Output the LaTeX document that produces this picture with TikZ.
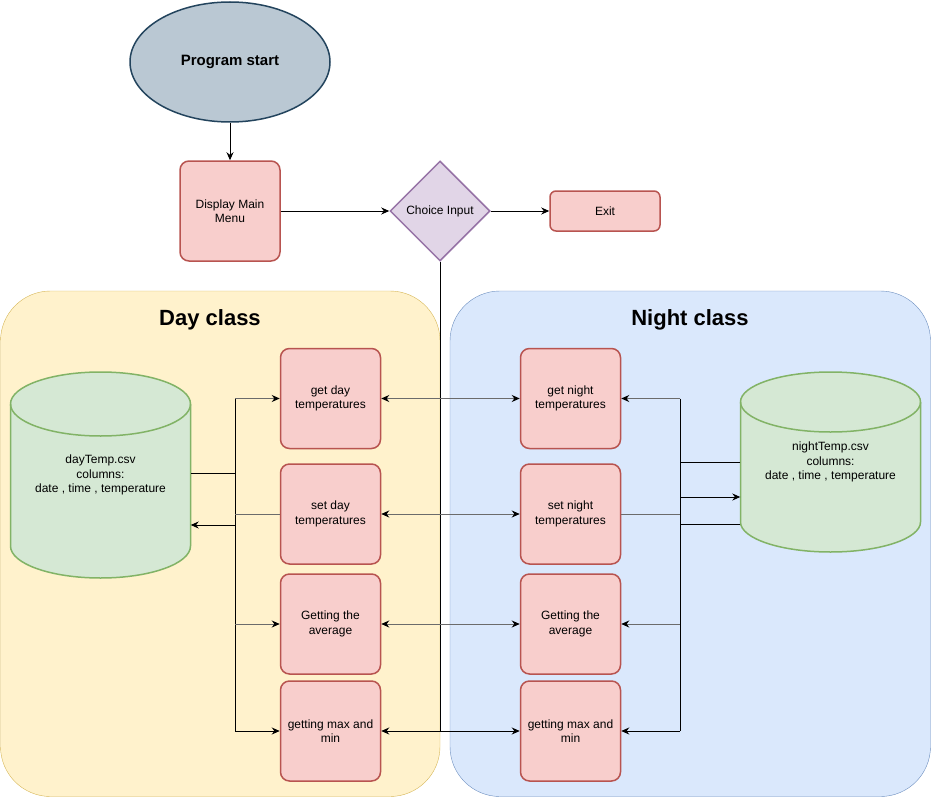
\documentclass[tikz,border=0pt]{standalone}
\usepackage{fontspec}
\setmainfont{Liberation Sans}
\usetikzlibrary{shapes.geometric, arrows.meta}

\definecolor{startFill}{HTML}{BAC8D3}
\definecolor{startLine}{HTML}{23445D}
\definecolor{boxFill}{HTML}{F8CECC}
\definecolor{boxLine}{HTML}{B85450}
\definecolor{choiceFill}{HTML}{E1D5E7}
\definecolor{choiceLine}{HTML}{9673A6}
\definecolor{dayFill}{HTML}{FFF2CC}
\definecolor{dayLine}{HTML}{D6B656}
\definecolor{nightFill}{HTML}{DAE8FC}
\definecolor{nightLine}{HTML}{6C8EBF}
\definecolor{csvFill}{HTML}{D5E8D4}
\definecolor{csvLine}{HTML}{82B366}

% cylinder: centre x, top y, bottom y, end radius
\newcommand{\csvdrum}[4]{%
  \draw[csvdb] (#1-90,#2-#4) -- (#1-90,#3+#4)
    arc[start angle=180, end angle=360, x radius=90, y radius=#4]
    -- (#1+90,#2-#4) arc[start angle=0, end angle=180, x radius=90, y radius=#4] -- cycle;
  \draw[csvdb, fill=none] (#1-90,#2-#4) arc[start angle=180, end angle=360, x radius=90, y radius=#4];
}

\begin{document}
\begin{tikzpicture}[x=1pt, y=1pt,
  >={Stealth[length=8pt, width=7pt, color=black]},
  every node/.style={inner sep=0pt, align=center, font=\fontsize{12}{14.5}\selectfont},
  redbox/.style={draw=boxLine, fill=boxFill, line width=1.5pt, rounded corners=9pt,
    minimum width=100pt, minimum height=100pt},
  startnode/.style={ellipse, draw=startLine, fill=startFill, line width=1.5pt,
    minimum width=200pt, minimum height=120pt, font=\fontsize{15}{17}\selectfont\bfseries},
  choicenode/.style={diamond, draw=choiceLine, fill=choiceFill, line width=1.5pt,
    minimum width=100pt, minimum height=100pt},
  csvdb/.style={draw=csvLine, fill=csvFill, line width=1.5pt},
  title/.style={font=\fontsize{22}{25}\selectfont\bfseries},
  link/.style={draw=black, line width=1pt},
  dimlink/.style={draw=black!58, line width=1pt}]
\useasboundingbox (0,0) rectangle (931,-797);

% class frames
\draw[draw=dayLine, fill=dayFill, rounded corners=50pt] (0.5,-291) rectangle (440,-796.5);
\draw[draw=nightLine, fill=nightFill, rounded corners=50pt] (450,-291) rectangle (930.5,-796.5);
\node[title] (dayTitle) at (210,-320) {Day class};
\node[title] (nightTitle) at (690,-320) {Night class};

% main menu
\node[startnode] (start) at (230,-62) {Program start};
\node[redbox] (menu) at (230,-211) {Display Main\\Menu};
\node[choicenode] (choice) at (440,-211) {Choice Input};
\node[redbox, minimum width=110pt, minimum height=40pt, rounded corners=6pt] (exit) at (605,-211) {Exit};

\draw[link,->] (start) -- (menu);
\draw[link,->] (menu) -- (choice);
\draw[link,->] (choice) -- (exit);

% day class
\node[redbox] (getDay) at (330.5,-398.5) {get day\\temperatures};
\node[redbox] (setDay) at (330.5,-514) {set day\\temperatures};
\node[redbox] (avgDay) at (330.5,-624) {Getting the\\average};
\node[redbox] (maxDay) at (330.5,-731) {getting max and\\min};
\csvdrum{100.5}{-372}{-578}{32}
\node[minimum width=180pt, minimum height=206pt] (dayCsv) at (100.5,-475) {dayTemp.csv\\columns:\\date , time , temperature};

% night class
\node[redbox] (getNight) at (570.5,-398.5) {get night\\temperatures};
\node[redbox] (setNight) at (570.5,-514) {set night\\temperatures};
\node[redbox] (avgNight) at (570.5,-624) {Getting the\\average};
\node[redbox] (maxNight) at (570.5,-731) {getting max and\\min};
\csvdrum{830.5}{-372}{-552}{30}
\node[minimum width=180pt, minimum height=180pt] (nightCsv) at (830.5,-462) {nightTemp.csv\\columns:\\date , time , temperature};

\draw[link] (choice.south) -- (choice.south |- maxDay);

% day wiring
\coordinate (dayBusTop) at (235,-398.5);
\coordinate (dayBusBot) at (235,-731);
\draw[link] (dayBusTop) -- (dayBusBot);
\draw[link] ([yshift=2pt]dayCsv.east) -- ([yshift=2pt]dayCsv.east -| dayBusTop);
\draw[dimlink,->] (dayBusTop) -- (getDay.west);
\draw[dimlink] (setDay.west) -- (setDay.west -| dayBusTop);
\draw[link,->] ([yshift=-11pt]setDay.west -| dayBusTop) -- ([yshift=-11pt]setDay.west -| dayCsv.east);
\draw[dimlink,->] (avgDay.west -| dayBusTop) -- (avgDay.west);
\draw[link,->] (dayBusBot) -- (maxDay.west);

% night wiring
\coordinate (nightBusTop) at (680,-398.5);
\coordinate (nightBusBot) at (680,-731);
\draw[link] (nightBusTop) -- (nightBusBot);
\draw[dimlink,->] (nightBusTop) -- (getNight.east);
\draw[dimlink] (setNight.east) -- (setNight.east -| nightBusTop);
\draw[dimlink,->] (avgNight.east -| nightBusTop) -- (avgNight.east);
\draw[link,->] (nightBusBot) -- (maxNight.east);
\draw[link] (nightCsv.west) -- (nightCsv.west -| nightBusTop);
\draw[link,->] ([yshift=-35pt]nightCsv.west -| nightBusTop) -- ([yshift=-35pt]nightCsv.west);
\draw[link] ([yshift=-62pt]nightCsv.west) -- ([yshift=-62pt]nightCsv.west -| nightBusTop);

% day <-> night
\draw[dimlink,<->] (getDay) -- (getNight);
\draw[dimlink,<->] (setDay) -- (setNight);
\draw[dimlink,<->] (avgDay) -- (avgNight);
\draw[link,<->] (maxDay) -- (maxNight);
\end{tikzpicture}
\end{document}
